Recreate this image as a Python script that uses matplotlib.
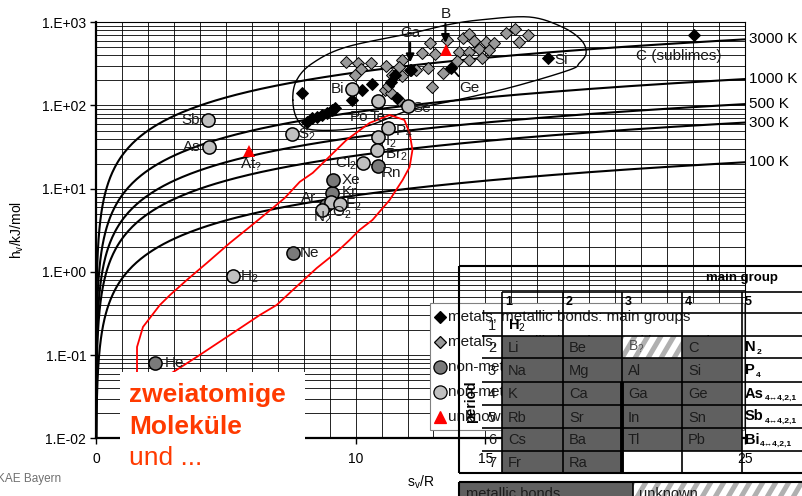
import numpy as np
import matplotlib
matplotlib.use("Agg")
import matplotlib.pyplot as plt
from matplotlib.patches import Rectangle
from matplotlib.lines import Line2D
from matplotlib.text import Annotation
from matplotlib.ticker import MultipleLocator, LogLocator, FuncFormatter, NullFormatter

plt.rcParams['font.family'] = ['Liberation Sans', 'DejaVu Sans']
plt.rcParams['mathtext.fontset'] = 'custom'
plt.rcParams['mathtext.rm'] = 'Liberation Sans'
plt.rcParams['mathtext.bf'] = 'Liberation Sans:bold'
plt.rcParams['mathtext.it'] = 'Liberation Sans:italic'

# ---- data: s_v/R (dimensionless) and h_v (kJ/mol) ----
R = 8.314  # J/(mol K)
isotherms_K = [100, 300, 500, 1000, 3000]

main_metals_s = [7.92, 8.12, 8.31, 8.50, 8.69, 8.88, 9.08, 9.19, 9.85, 10.23,
                 10.62, 11.38, 11.58, 11.50, 12.15, 13.69, 17.42, 23.04]
main_metals_h = [141, 63, 71, 73, 77, 81, 88, 93, 116, 153,
                 181, 191, 123, 233, 267, 282, 372, 703]

trans_metals_s = [9.62, 10.08, 10.58, 10.19, 9.96, 11.19, 11.42, 11.77, 11.69, 11.77,
                  11.12, 11.38, 11.23, 11.69, 12.08, 12.31, 12.54, 12.85, 13.04, 12.77,
                  13.35, 12.96, 13.54, 14.00, 13.92, 14.12, 14.38, 14.58, 14.38, 14.38,
                  14.77, 14.85, 15.04, 15.15, 15.35, 15.81, 16.15, 16.31, 16.65]
trans_metals_h = [333, 324, 324, 275, 233, 299, 233, 352, 290, 226,
                  153, 141, 171, 116, 267, 267, 428, 564, 416, 282,
                  246, 167, 612, 440, 343, 647, 723, 596, 440, 352,
                  478, 372, 580, 465, 564, 743, 830, 580, 703]

noble_s = [2.27, 7.58, 8.86, 9.08, 9.12, 10.88]
noble_h = [0.080, 1.69, 6.4, 8.9, 12.7, 18.7]

molecular_s = [4.31, 4.35, 7.54, 5.27, 9.88, 10.88, 12.0, 11.23, 10.88, 10.81,
               10.27, 9.04, 9.38, 8.69]
molecular_h = [67, 31.7, 45.5, 0.89, 158, 113, 98.6, 53.7, 41.8, 29.2,
               20.4, 6.9, 6.55, 5.55]

unknown_s = [13.5, 5.88]
unknown_h = [465, 28.4]

# element labels: text, s, h, alignment
labels = [
    ('Sb', 4.0, 67, 'right'), ('As', 4.04, 31.7, 'right'), ('S$_2$', 7.77, 45, 'left'),
    ('H$_2$', 5.54, 0.87, 'left'), ('He', 2.65, 0.08, 'left'), ('Ne', 7.85, 1.69, 'left'),
    ('Bi', 9.58, 158, 'right'), ('Po', 9.77, 73, 'left'), ('Te', 10.54, 73, 'left'),
    ('Se', 12.19, 93, 'left'), ('I$_2$', 11.15, 36.4, 'left'), ('P$_4$', 11.5, 48, 'left'),
    ('Br$_2$', 11.15, 25.4, 'left'), ('Cl$_2$', 10.04, 20.4, 'right'), ('Rn', 11.0, 15.4, 'left'),
    ('Xe', 9.46, 12.7, 'left'), ('Kr', 9.46, 9.1, 'left'), ('Ar', 8.5, 7.73, 'right'),
    ('F$_2$', 9.58, 6.37, 'left'), ('O$_2$', 9.08, 5.1, 'left'), ('N$_2$', 8.35, 4.45, 'left'),
    ('At$_?$', 5.54, 19.3, 'left'), ('Si', 17.65, 352, 'left'), ('C (sublimes)', 20.8, 394, 'left'),
]

# outline around the metals (s, h)
metal_loop_s = [7.58, 7.73, 8.35, 9.65, 12.19, 13.5, 14.77, 16.69, 17.96, 18.69,
                18.88, 18.62, 18.23, 16.04, 13.88, 12.08, 10.27, 8.35, 7.77]
metal_loop_h = [116, 202, 324, 505, 743, 928, 1066, 1158, 878, 612,
                428, 324, 267, 167, 116, 88, 55, 51, 67]

# red outline around the molecular substances (s, h)
mol_loop_s = [1.52, 1.55, 1.58, 1.58, 1.81, 2.46, 2.85, 3.5, 4.27, 5.15, 5.92, 6.58,
              7.27, 7.85, 8.35, 9.65, 10.54, 11.31, 11.88, 12.08, 12.19, 12.08,
              11.81, 11.31, 10.65, 10.15, 9.77, 9.27, 8.5, 7.58, 6.96, 6.31,
              5.04, 3.88, 2.92, 2.46, 1.88, 1.52]
mol_loop_h = [0.012, 0.03, 0.066, 0.125, 0.218, 0.40, 0.527, 0.80, 1.28, 2.22, 3.47, 5.11,
              7.73, 12.1, 15.5, 38.5, 61.7, 76.9, 67.0, 46.7, 29.2, 18.2,
              12.7, 7.31, 4.21, 3.19, 2.42, 1.73, 1.11, 0.605, 0.40, 0.303,
              0.165, 0.095, 0.061, 0.033, 0.0219, 0.012]

# periodic table inset
periods = ['1', '2', '3', '4', '5', '6', '7']
groups = ['1', '2', '3', '4', '5']
elements = [
    ['H$_2$', '', '', ''],
    ['Li', 'Be', 'B', 'C'],
    ['Na', 'Mg', 'Al', 'Si'],
    ['K', 'Ca', 'Ga', 'Ge'],
    ['Rb', 'Sr', 'In', 'Sn'],
    ['Cs', 'Ba', 'Tl', 'Pb'],
    ['Fr', 'Ra', '', ''],
]
group5 = ['', 'N', 'P', 'As', 'Sb', 'Bi', '']
group5_sub = ['', '2', '4', '4\u21944,2,1', '4\u21944,2,1', '4\u21944,2,1', '']

legend_labels = ['metals, metallic bonds: main groups',
                 'metals, metallic bonds: transition metals',
                 'non-metals: noble gases',
                 'non-metals: molecules',
                 'unknown']


def closed_spline(xs, ys, n=16):
    # Catmull-Rom through the points in (s, log h) space
    P = np.column_stack([xs, np.log10(ys)])
    m = len(P)
    t = np.linspace(0, 1, n, endpoint=False)[:, None]
    seg = []
    for i in range(m):
        p0, p1, p2, p3 = P[(i - 1) % m], P[i], P[(i + 1) % m], P[(i + 2) % m]
        seg.append(0.5 * (2 * p1 + (-p0 + p2) * t + (2 * p0 - 5 * p1 + 4 * p2 - p3) * t ** 2
                          + (-p0 + 3 * p1 - 3 * p2 + p3) * t ** 3))
    out = np.vstack(seg + [seg[0][:1]])
    return out[:, 0], 10 ** out[:, 1]


W, H = 802, 496
fig = plt.figure(figsize=(W / 100, H / 100), dpi=100)
ax = fig.add_axes([96 / W, 1 - 438.3 / H, 649 / W, 416 / H])

ax.set_yscale('log')
ax.set_xlim(0, 25)
ax.set_ylim(0.01, 1000)
ax.xaxis.set_major_locator(MultipleLocator(5))
ax.xaxis.set_minor_locator(MultipleLocator(1))
ax.yaxis.set_major_locator(LogLocator(base=10))
ax.yaxis.set_minor_locator(LogLocator(base=10, subs=range(2, 10)))
ax.yaxis.set_major_formatter(FuncFormatter(lambda v, p: '1.E%+03d' % int(round(np.log10(v)))))
ax.yaxis.set_minor_formatter(NullFormatter())
ax.grid(True, which='both', color='black', lw=0.6)
ax.tick_params(which='major', direction='out', length=4, width=1, labelsize=10, pad=3)
ax.tick_params(axis='x', which='major', pad=6)
ax.tick_params(which='minor', length=0)
for side in ['left', 'bottom']:
    ax.spines[side].set_linewidth(1.6)
for side in ['top', 'right']:
    ax.spines[side].set_linewidth(0.8)
ax.set_axisbelow(True)

ax.set_ylabel('h$_\\mathregular{v}$/kJ/mol', fontsize=10)
ax.yaxis.set_label_coords(-0.108, 0.5)
ax.set_xlabel('s$_\\mathregular{v}$/R', fontsize=10)
ax.xaxis.set_label_coords(0.5, -0.085)

# isotherms h = R T s
s = np.concatenate([np.geomspace(1e-4, 1, 200), np.linspace(1, 25, 300)[1:]])
for T in isotherms_K:
    h = R * T * s / 1000
    ax.plot(s, h, color='black', lw=1.5, zorder=2)
    ax.annotate('%d K' % T, xy=(25, R * T * 25 / 1000), xytext=(3, 0),
                textcoords='offset points', va='center', fontsize=11,
                annotation_clip=False)

# outlines
ls, lh = closed_spline(metal_loop_s, metal_loop_h)
ax.plot(ls, lh, color='black', lw=1.0, zorder=3, clip_on=False)
ax.plot(mol_loop_s, mol_loop_h, color='red', lw=1.3, zorder=3)

# data points
dms, cms = 6.6, 9.5
ax.plot(trans_metals_s, trans_metals_h, 'D', ms=dms, mfc='#999999', mec='black', mew=0.7, zorder=4)
ax.plot(main_metals_s, main_metals_h, 'D', ms=dms, mfc='black', mec='black', mew=0.7, zorder=5)
ax.plot(noble_s, noble_h, 'o', ms=cms, mfc='#7a7a7a', mec='black', mew=1.1, zorder=5)
ax.plot(molecular_s, molecular_h, 'o', ms=cms, mfc='#c0c0c0', mec='black', mew=1.1, zorder=6)
ax.plot(unknown_s, unknown_h, '^', ms=8, mfc='red', mec='red', mew=0, zorder=7)

for txt, xs, yh, ha in labels:
    ax.text(xs, yh, txt, ha=ha, va='center', fontsize=11, color='#1a1a1a', zorder=8)

# arrows to Ga, B and Ge
arr = dict(arrowstyle='-|>', color='black', lw=1.5, mutation_scale=12, shrinkA=0, shrinkB=0)
ax.annotate('Ga', xy=(12.1, 330), xytext=(12.1, 743), ha='center', va='center',
            fontsize=11, color='#1a1a1a', arrowprops=arr, annotation_clip=False, zorder=8)
ax.annotate('B', xy=(13.46, 564), xytext=(13.46, 1259), ha='center', va='center',
            fontsize=11, color='#1a1a1a', arrowprops=arr, annotation_clip=False, zorder=8)
ax.annotate('Ge', xy=(13.69, 282), xytext=(14.38, 162), ha='center', va='center',
            fontsize=11, color='#1a1a1a', zorder=8,
            arrowprops=dict(arrowstyle='-', color='black', lw=1.3, shrinkA=2, shrinkB=0))


# ---- overlays in pixel coordinates of the figure ----
def fx(x):
    return x / W


def fy(y):
    return 1 - y / H


def rect(x0, y0, x1, y1, z, **kw):
    r = Rectangle((fx(x0), fy(y1)), (x1 - x0) / W, (y1 - y0) / H,
                  transform=fig.transFigure, zorder=z, **kw)
    fig.add_artist(r)
    return r


def line(x0, y0, x1, y1, z=6, lw=1.2, color='black'):
    fig.add_artist(Line2D([fx(x0), fx(x1)], [fy(y0), fy(y1)], transform=fig.transFigure,
                          color=color, lw=lw, zorder=z, solid_capstyle='butt'))


def text(x, y, s, z=7, **kw):
    return fig.text(fx(x), fy(y), s, zorder=z, **kw)


def stripes(x0, y0, x1, y1, z):
    base = rect(x0, y0, x1, y1, z, facecolor='white', edgecolor='none')
    hgt = y1 - y0
    dx = hgt / 1.7
    for a in np.arange(x0 - dx, x1 + 13, 13):
        ln = Line2D([fx(a), fx(a + dx)], [fy(y1), fy(y0)], transform=fig.transFigure,
                    color='#b0b0b0', lw=3.6, zorder=z + 0.1)
        fig.add_artist(ln)
        ln.set_clip_path(base)


# legend box
rect(430, 303, 744, 430, 2, facecolor='white', edgecolor='#808080', lw=0.8)
leg_y = [317, 342, 367, 392, 417]
leg_style = [dict(marker='D', ms=dms, mfc='black', mec='black'),
             dict(marker='D', ms=dms, mfc='#999999', mec='black'),
             dict(marker='o', ms=cms, mfc='#7a7a7a', mec='black'),
             dict(marker='o', ms=cms, mfc='#c0c0c0', mec='black'),
             dict(marker='^', ms=8, mfc='red', mec='red')]
for y, st, lab in zip(leg_y, leg_style, legend_labels):
    fig.add_artist(Line2D([fx(440)], [fy(y)], transform=fig.transFigure, ls='none',
                          mew=0.9, zorder=2.2, **st))
    text(448, y, lab, z=2.2, fontsize=11, va='center', color='#1a1a1a')

# periodic table
cols = [502, 563, 622, 682, 742, 802]
rows = [313, 336, 358, 382, 405, 428, 451, 473]
gray = '#606060'
for r in range(7):
    yc = (rows[r] + rows[r + 1]) / 2
    for c in range(4):
        x0, x1, y0, y1 = cols[c], cols[c + 1], rows[r], rows[r + 1]
        filled = (r >= 1 and c < 2) or (1 <= r <= 5 and c >= 2)
        if r == 1 and c == 2:
            stripes(x0, y0, x1, y1, 3)
            text(x0 + 6, yc, 'B$_?$', fontsize=10, va='center', color='#505050')
        elif filled:
            rect(x0, y0, x1, y1, 3, facecolor=gray, edgecolor='none')
            text(x0 + 6, yc + 1, elements[r][c], fontsize=10.5, va='center', color='#1c1c1c')
        elif elements[r][c]:
            text(x0 + 6, yc + 1, elements[r][c], fontsize=10.5, va='center',
                 color='black', fontweight='bold')
    if group5[r]:
        main = text(cols[4] + 3, yc, group5[r], fontsize=10.5, va='center',
                    fontweight='bold', color='black')
        fig.add_artist(Annotation(group5_sub[r], xy=(1, 0.12), xycoords=main, xytext=(0.5, 0),
                                  textcoords='offset points', fontsize=6, fontweight='bold',
                                  va='center', zorder=7))
    text(496, yc + 1, periods[r], fontsize=10.5, va='center', ha='right', color='#1a1a1a')

for c, g in enumerate(groups):
    text(cols[c] + 3, 302, g, fontsize=9, fontweight='bold', va='center')
text(742, 278, 'main group', fontsize=9.5, fontweight='bold', va='center', ha='center')
text(471, 402, 'period', fontsize=10, fontweight='bold', va='center', ha='center',
     rotation=90)

line(459, 266, 802, 266, lw=1.5)
line(459, 266, 459, 473, lw=1.5)
line(459, 473, 802, 473, lw=1.5)
line(502, 292, 802, 292)
for x in cols[:-1]:
    line(x, 292, x, 473)
for y in rows[:-1]:
    line(502, y, 802, y)
    line(482, y, 502, y)
line(622, 382, 622, 473, lw=2.8)

# bonding key strip
rect(459, 482, 633, 500, 3, facecolor=gray, edgecolor='none')
stripes(633, 482, 802, 500, 3)
line(459, 482, 802, 482, lw=1.5)
line(459, 482, 459, 496, lw=1.5)
line(633, 482, 633, 496, lw=1.2)
text(466, 494, 'metallic bonds', fontsize=10.5, va='center', color='#1c1c1c')
text(639, 494, 'unknown', fontsize=10.5, va='center', color='#1c1c1c')

# caption box
rect(120, 372, 305, 500, 8, facecolor='white', edgecolor='none')
text(129, 402, 'zweiatomige', z=9, fontsize=19, fontweight='bold', color='#ff3a00',
     va='baseline')
text(129, 434, 'Moleküle', z=9, fontsize=19, fontweight='bold', color='#ff3a00',
     va='baseline')
text(129, 465, 'und ...', z=9, fontsize=19, color='#ff3a00', va='baseline')

text(-3, 479, 'KAE Bayern', fontsize=8.5, color='#707070', va='center')

fig.savefig('out.png', dpi=100)
